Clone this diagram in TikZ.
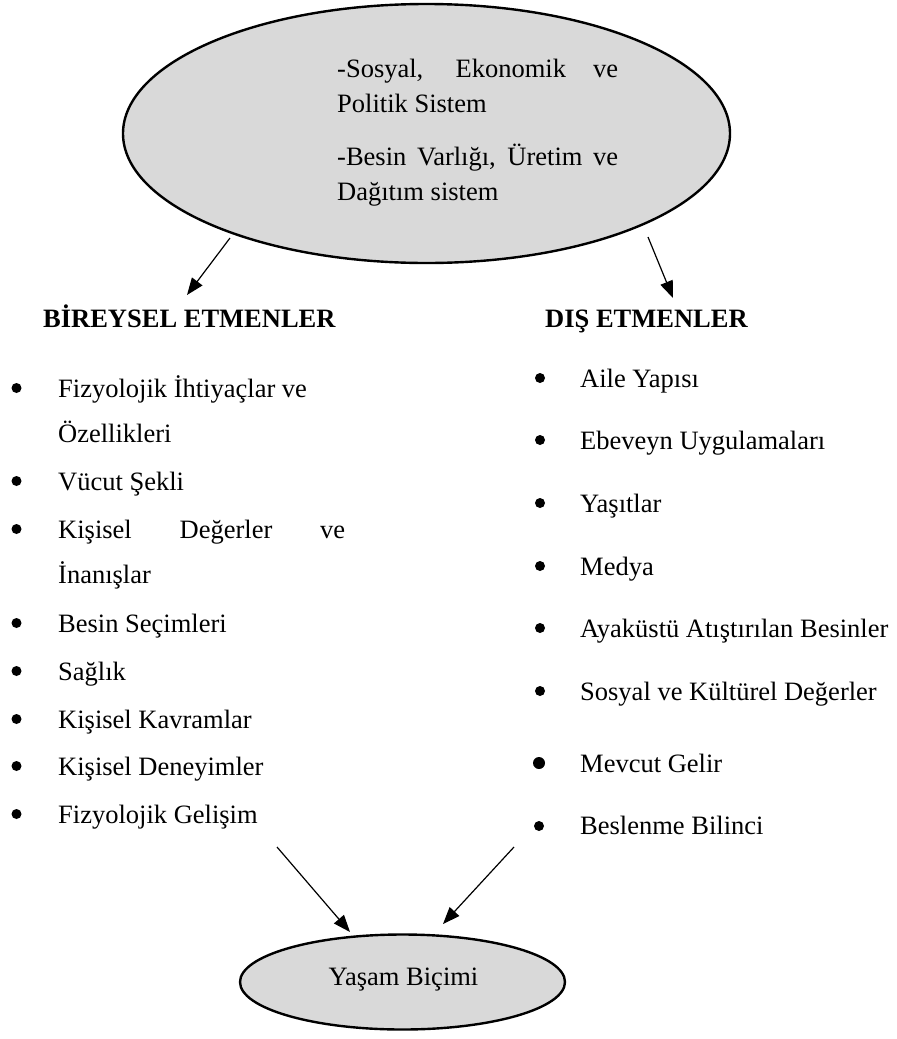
\documentclass[tikz,border=0pt]{standalone}
\usepackage{fontspec}
\setmainfont{Liberation Serif}
\usetikzlibrary{arrows.meta,shapes.geometric}
\definecolor{shapefill}{HTML}{D9D9D9}
\tikzset{
  txt/.style={anchor=base west, inner sep=0pt, font=\fontsize{26.5}{30}\selectfont},
  head/.style={anchor=base west, inner sep=0pt, font=\fontsize{26.5}{30}\selectfont\bfseries},
  blt/.style={circle, fill=black, inner sep=0pt, minimum size=10pt},
  oval/.style={ellipse, draw=black, fill=shapefill, line width=2.4pt, inner sep=0pt},
  conn/.style={line width=1.2pt, -{Triangle[length=17pt,width=13pt]}},
}
\begin{document}
\begin{tikzpicture}[x=1pt,y=-1pt]
\useasboundingbox (0,0) rectangle (897,1039);

% top ellipse
\node[oval, minimum width=607pt, minimum height=259pt] (top) at (426.5,133.5) {};
\node[txt] (e1) at (337,77) {\makebox[281pt][s]{-Sosyal, Ekonomik ve}};
\node[txt] (e2) at (337,112) {Politik Sistem};
\node[txt] (e3) at (337,165) {\makebox[281pt][s]{-Besin Varlığı, Üretim ve}};
\node[txt] (e4) at (337,200) {Dağıtım sistem};

% headings
\node[head] (hl) at (43,327) {BİREYSEL ETMENLER};
\node[head] (hr) at (545,327) {DIŞ ETMENLER};

% left list
\node[blt] (lb1) at (16.5,388) {};
\node[txt] (l1) at (58,397) {Fizyolojik İhtiyaçlar ve};
\node[txt] (l1b) at (58,442) {Özellikleri};
\node[blt] (lb2) at (16.5,481) {};
\node[txt] (l2) at (58,490) {Vücut Şekli};
\node[blt] (lb3) at (16.5,529) {};
\node[txt] (l3) at (58,538) {\makebox[287pt][s]{Kişisel Değerler ve}};
\node[txt] (l3b) at (58,583) {İnanışlar};
\node[blt] (lb4) at (16.5,623) {};
\node[txt] (l4) at (58,632) {Besin Seçimleri};
\node[blt] (lb5) at (16.5,671) {};
\node[txt] (l5) at (58,680) {Sağlık};
\node[blt] (lb6) at (16.5,719) {};
\node[txt] (l6) at (58,728) {Kişisel Kavramlar};
\node[blt] (lb7) at (16.5,766) {};
\node[txt] (l7) at (58,775) {Kişisel Deneyimler};
\node[blt] (lb8) at (16.5,814) {};
\node[txt] (l8) at (58,823) {Fizyolojik Gelişim};

% right list
\node[blt] (rb1) at (540,378) {};
\node[txt] (r1) at (580,387) {Aile Yapısı};
\node[blt] (rb2) at (540,440) {};
\node[txt] (r2) at (580,449) {Ebeveyn Uygulamaları};
\node[blt] (rb3) at (540,503) {};
\node[txt] (r3) at (580,512) {Yaşıtlar};
\node[blt] (rb4) at (540,566) {};
\node[txt] (r4) at (580,575) {Medya};
\node[blt] (rb5) at (540,628) {};
\node[txt] (r5) at (580,637) {Ayaküstü Atıştırılan Besinler};
\node[blt] (rb6) at (540,691) {};
\node[txt] (r6) at (580,700) {Sosyal ve Kültürel Değerler};
\node[blt, minimum size=12pt] (rb7) at (539,763) {};
\node[txt] (r7) at (580,772) {Mevcut Gelir};
\node[blt] (rb8) at (539,826) {};
\node[txt] (r8) at (580,834) {Beslenme Bilinci};

% bottom ellipse
\node[oval, minimum width=325pt, minimum height=95pt] (bot) at (402.5,982) {};
\node[anchor=base, inner sep=0pt, font=\fontsize{26.5}{30}\selectfont] (bt) at (403.5,985) {Yaşam Biçimi};

% connectors
\coordinate (a1s) at (230,238);
\coordinate (a1e) at (187,295);
\coordinate (a2s) at (648,237);
\coordinate (a2e) at (673,298);
\coordinate (a3s) at (277,847);
\coordinate (a3e) at (350,932);
\coordinate (a4s) at (514,847);
\coordinate (a4e) at (443,924);
\draw[conn] (a1s) -- (a1e);
\draw[conn] (a2s) -- (a2e);
\draw[conn] (a3s) -- (a3e);
\draw[conn] (a4s) -- (a4e);
\end{tikzpicture}
\end{document}
